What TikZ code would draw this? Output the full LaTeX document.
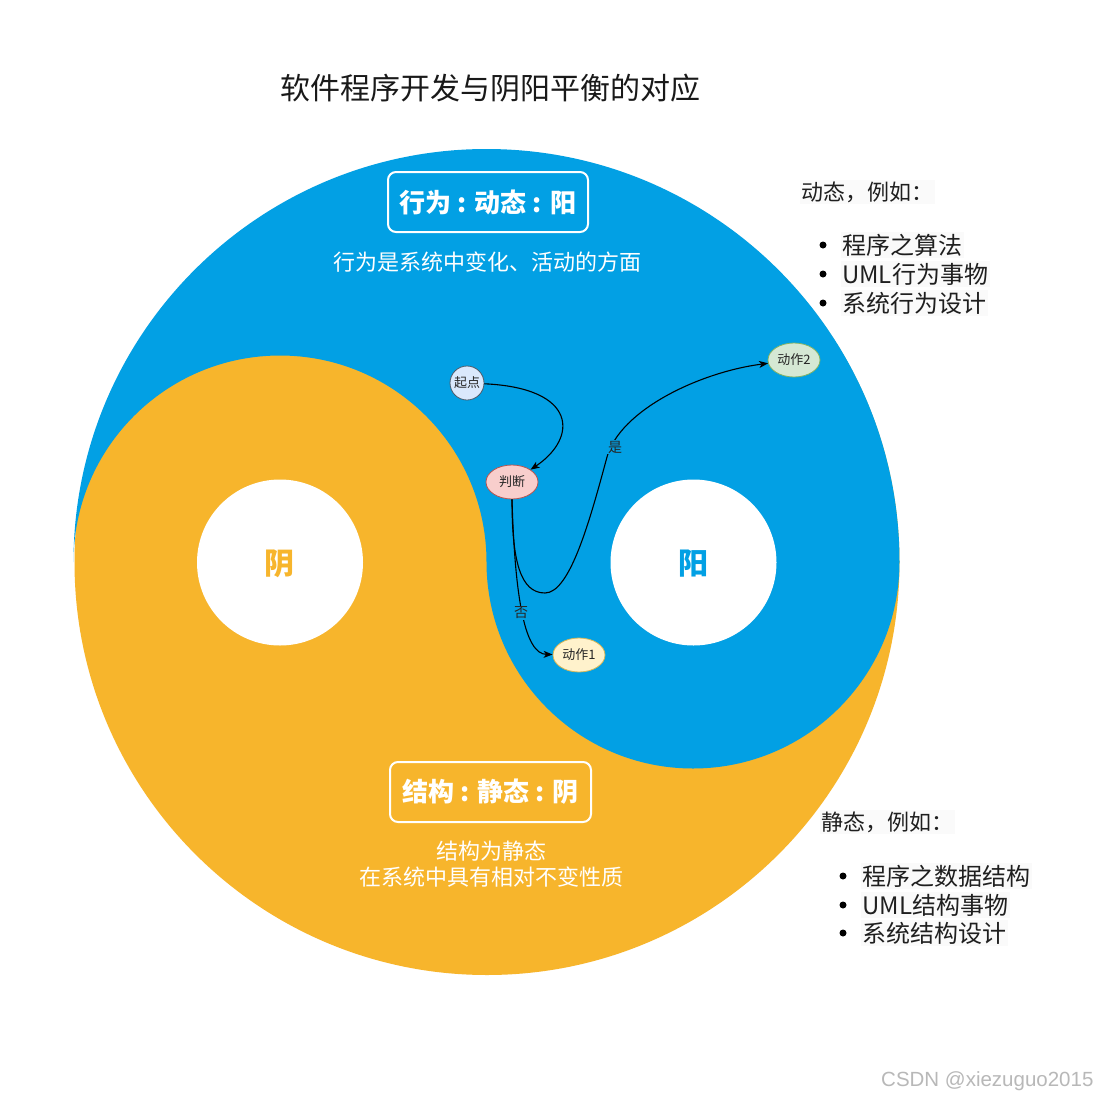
\documentclass[tikz,border=0pt]{standalone}
\usepackage{fontspec}
\setmainfont{Noto Sans CJK SC}
\newfontfamily\wmfont{Liberation Sans}
\usetikzlibrary{arrows.meta,shapes.geometric}
\definecolor{yangblue}{RGB}{2,160,228}
\definecolor{yinyellow}{RGB}{247,181,44}
\definecolor{qdfill}{HTML}{DAE8FC}
\definecolor{qdline}{HTML}{4D5A6A}
\definecolor{pdfill}{HTML}{F8CECC}
\definecolor{pdline}{HTML}{B85450}
\definecolor{aafill}{HTML}{FFF2CC}
\definecolor{aaline}{HTML}{D6B656}
\definecolor{abfill}{HTML}{D5E8D4}
\definecolor{abline}{HTML}{82B366}
\newcommand\fsz[2]{\fontsize{#1}{#2}\selectfont}
\begin{document}
\begin{tikzpicture}[x=1pt,y=1pt,
  titlebox/.style={draw=white, line width=2pt, rounded corners=8pt, text=white,
    minimum height=60pt, inner sep=0pt, font=\fsz{26}{30}\bfseries},
  whitetext/.style={text=white, align=center, inner sep=0pt},
  sidetext/.style={anchor=west, fill=black!2, inner sep=1.5pt, text=black!88},
  flow/.style={ellipse, minimum width=52pt, minimum height=34pt, inner sep=0pt,
    line width=0.8pt, font=\fsz{13}{15}, text=black!85},
  edge/.style={line width=1.1pt, -{Stealth[length=9pt,width=7pt,inset=2.5pt]}},
  lbl/.style={fill=yangblue, inner sep=1pt, font=\fsz{14}{15}, text=black!85}
]
\useasboundingbox (0,0) rectangle (1100,-1101);
\fill[white] (0,0) rectangle (1100,-1101);

% title
\node[font=\fsz{30}{34}, text=black!90] (title) at (490,-88) {软件程序开发与阴阳平衡的对应};

% yin (yellow) base
\fill[yinyellow] (487,-562.5) circle[radius=412.5];
% yang (blue)
\fill[yangblue] (73.5,-562) arc[start angle=180,end angle=0,radius=413]
  arc[start angle=0,end angle=-180,radius=206.5]
  arc[start angle=0,end angle=180,radius=206.5] -- cycle;
% eyes
\fill[white] (280,-562.5) circle[radius=83];
\fill[white] (693.5,-562.5) circle[radius=83];
\node[font=\fsz{30}{32}\bfseries, text=yinyellow] (yin) at (279,-564) {阴};
\node[font=\fsz{30}{32}\bfseries, text=yangblue] (yang) at (693,-564) {阳};

% yang texts
\node[titlebox, minimum width=200pt] (yangbox) at (488,-202) {行为 : 动态 : 阳};
\node[whitetext, font=\fsz{22}{26}] (yangdesc) at (487,-262) {行为是系统中变化、活动的方面};

% yin texts
\node[titlebox, minimum width=201pt] (yinbox) at (490.5,-792) {结构 : 静态 : 阴};
\node[whitetext, font=\fsz{22}{26}] (yindesc) at (491,-864) {结构为静态\\在系统中具有相对不变性质};

% side lists
\node[sidetext, font=\fsz{22}{24}] (dyn) at (800,-192) {动态，例如：};
\node[sidetext, font=\fsz{24}{26}] (d1) at (840.5,-245) {程序之算法};
\node[sidetext, font=\fsz{24}{26}] (d2) at (840.5,-274) {UML行为事物};
\node[sidetext, font=\fsz{24}{26}] (d3) at (840.5,-303) {系统行为设计};
\foreach \yy in {-245,-274,-303} \fill[black] (823,\yy) circle[radius=3.5];

\node[sidetext, font=\fsz{22}{24}] (sta) at (820,-822) {静态，例如：};
\node[sidetext, font=\fsz{24}{26}] (s1) at (860.5,-876) {程序之数据结构};
\node[sidetext, font=\fsz{24}{26}] (s2) at (860.5,-905) {UML结构事物};
\node[sidetext, font=\fsz{24}{26}] (s3) at (860.5,-933) {系统结构设计};
\foreach \yy in {-876,-905,-933} \fill[black] (843,\yy) circle[radius=3.5];

% flowchart
\node[flow, circle, minimum size=34pt, fill=qdfill, draw=qdline] (qd) at (467,-383) {起点};
\node[flow, fill=pdfill, draw=pdline] (pd) at (512,-482) {判断};
\node[flow, fill=abfill, draw=abline] (a2) at (794,-360) {动作2};
\node[flow, fill=aafill, draw=aaline] (a1) at (579,-655) {动作1};

\draw[edge] (qd) .. controls (578,-388) and (578,-438) .. (pd);
\draw[edge] (pd.south) .. controls (512,-560) and (520,-593) .. (545,-593)
  .. controls (570,-593) and (590,-520) .. (607,-457)
  .. controls (620,-410) and (700,-372) .. (a2);
\draw[edge] (pd.south) .. controls (515,-600) and (525,-654) .. (a1);
\node[lbl] (lyes) at (615,-447) {是};
\node[lbl] (lno) at (521,-613) {否};

% watermark
\node[anchor=east, font=\wmfont\fsz{20.5}{22}, text=black!28] (wm) at (1097,-1081) {CSDN @xiezuguo2015};
\end{tikzpicture}
\end{document}
